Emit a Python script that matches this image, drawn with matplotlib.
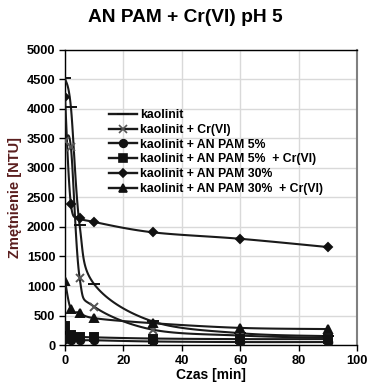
import numpy as np
import matplotlib
matplotlib.use('Agg')
import matplotlib.pyplot as plt

plt.rcParams['font.family'] = ['Liberation Sans', 'DejaVu Sans']

# time [min]
czas = [0, 2, 5, 10, 30, 60, 90]

# turbidity [NTU]
kaolinit = [4520, 4040, 2030, 1030, 400, 200, 150]
kaolinit_cr = [3450, 3360, 1140, 650, 260, 160, 120]
pam5 = [100, 90, 80, 80, 60, 50, 50]
pam5_cr = [330, 170, 140, 130, 110, 100, 100]
pam30 = [4200, 2390, 2160, 2085, 1910, 1800, 1660]
pam30_cr = [1090, 605, 548, 455, 370, 290, 270]

labels = ['kaolinit',
          'kaolinit + Cr(VI)',
          'kaolinit + AN PAM 5%',
          'kaolinit + AN PAM 5%  + Cr(VI)',
          'kaolinit + AN PAM 30%',
          'kaolinit + AN PAM 30%  + Cr(VI)']
series = [kaolinit, kaolinit_cr, pam5, pam5_cr, pam30, pam30_cr]
markers = [('_', 8), ('x', 6), ('o', 5.5), ('s', 6), ('D', 4.5), ('^', 6)]


def smooth(x, y, n=20):
    # Catmull-Rom style smoothing of the drawn line (like Excel "smoothed line")
    x = np.asarray(x, float)
    y = np.asarray(y, float)
    px = np.concatenate([[x[0]], x, [x[-1]]])
    py = np.concatenate([[y[0]], y, [y[-1]]])
    xs, ys = [], []
    t = np.linspace(0, 1, n)
    for i in range(1, len(px) - 2):
        p0, p1, p2, p3 = (np.array([px[j], py[j]]) for j in range(i - 1, i + 3))
        c1 = p1 + (p2 - p0) / 6.0
        c2 = p2 - (p3 - p1) / 6.0
        b = ((1 - t) ** 3)[:, None] * p1 + (3 * (1 - t) ** 2 * t)[:, None] * c1 \
            + (3 * (1 - t) * t ** 2)[:, None] * c2 + (t ** 3)[:, None] * p2
        xs.extend(b[:, 0])
        ys.extend(b[:, 1])
    return xs, ys


fig = plt.figure(figsize=(3.70, 3.83), dpi=100)
ax = fig.add_axes([0.1757, 0.0992, 0.7893, 0.7703])

for vals, lab, (m, ms) in zip(series, labels, markers):
    sx, sy = smooth(czas, vals)
    ax.plot(sx, sy, color='#1a1a1a', lw=1.5, zorder=3)
    mc = '#555555' if m == 'x' else '#111111'
    ax.plot(czas, vals, ls='none', marker=m, ms=ms, color=mc, mew=1.4, zorder=4)
    ax.plot([], [], color='#1a1a1a', lw=1.7, marker=m, ms=ms, mew=1.2,
            markeredgecolor=mc, markerfacecolor=mc, label=lab)

ax.set_xlim(0, 100)
ax.set_ylim(0, 5000)
ax.set_xticks(np.arange(0, 101, 20))
ax.set_yticks(np.arange(0, 5001, 500))
ax.grid(True, color='#d9d9d9', lw=1.0)
ax.set_axisbelow(True)
ax.tick_params(direction='out', length=4, width=1, labelsize=9.3, pad=3)
for lbl in ax.get_xticklabels() + ax.get_yticklabels():
    lbl.set_fontweight('bold')
for s in ['left', 'bottom', 'top']:
    ax.spines[s].set_color('black')
    ax.spines[s].set_linewidth(1.0)
ax.spines['right'].set_color('#808080')
ax.spines['right'].set_linewidth(1.5)

ax.set_xlabel('Czas [min]', fontsize=10, fontweight='bold', labelpad=1)
ax.set_ylabel('Zmętnienie [NTU]', fontsize=10.5, fontweight='bold',
              color='#5a1e1e', labelpad=3)
fig.text(0.5, 0.955, 'AN PAM + Cr(VI) pH 5', ha='center', va='center',
         fontsize=13.8, fontweight='bold')

leg = ax.legend(loc='upper left', bbox_to_anchor=(0.15, 0.80), frameon=False,
                prop={'size': 8.8, 'weight': 'bold'}, handlelength=2.3,
                handletextpad=0.25, labelspacing=0.23, borderaxespad=0,
                borderpad=0)

fig.savefig('out.png', dpi=100)
